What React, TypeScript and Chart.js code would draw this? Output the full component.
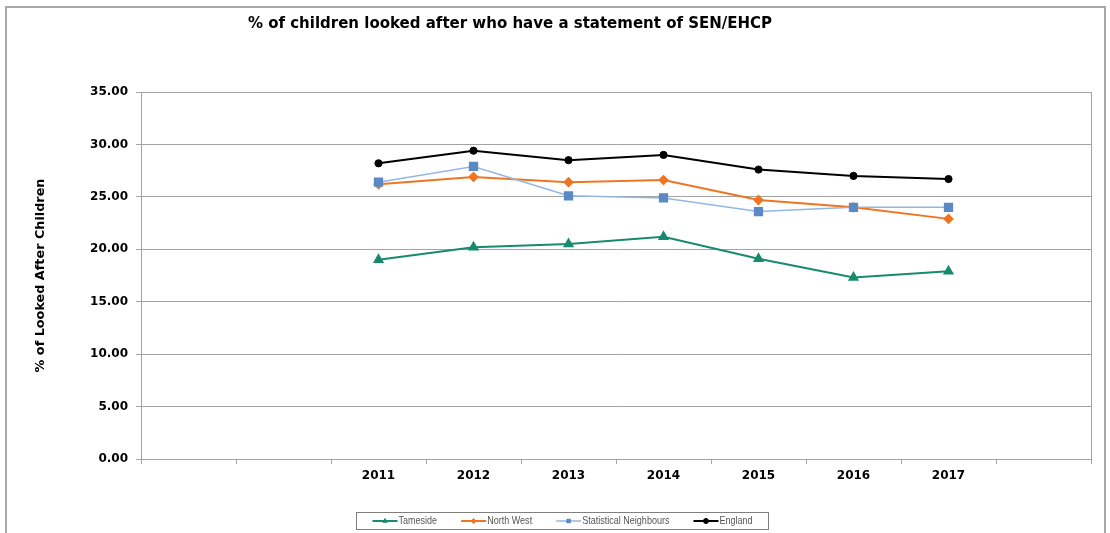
import React, { useEffect, useRef } from 'react';
import { Chart, registerables } from 'chart.js';
import { drawPoint } from 'chart.js/helpers';

Chart.register(...registerables);

// Category axis: two empty slots before the years and one after
const categories = ['', '', '2011', '2012', '2013', '2014', '2015', '2016', '2017', ''];

const tamesideValues = [null, null, 19.0, 20.2, 20.5, 21.2, 19.1, 17.3, 17.9, null];
const northWestValues = [null, null, 26.2, 26.9, 26.4, 26.6, 24.7, 24.0, 22.9, null];
const statNeighbourValues = [null, null, 26.4, 27.9, 25.1, 24.9, 23.6, 24.0, 24.0, null];
const englandValues = [null, null, 28.2, 29.4, 28.5, 29.0, 27.6, 27.0, 26.7, null];

const seriesNames = ['Tameside', 'North West', 'Statistical Neighbours', 'England'];

const chartTitle = '% of children looked after who have a statement of SEN/EHCP';
const yAxisTitle = '% of Looked After Children';

const axisFont = { family: '"DejaVu Sans", Verdana, sans-serif', size: 12, weight: 'bold' as const };
const gridColor = '#a3a3a3';

// Frame, title and line-with-marker legend drawn on the canvas
const decorPlugin = {
  id: 'decor',
  beforeDraw(chart: any) {
    const { ctx, width, height } = chart;
    ctx.save();
    ctx.fillStyle = '#ffffff';
    ctx.fillRect(0, 0, width, height);
    ctx.strokeStyle = '#a8a8a8';
    ctx.lineWidth = 2;
    ctx.strokeRect(6, 7, width - 11, height + 20);
    ctx.restore();
  },
  beforeDatasetsDraw(chart: any) {
    const { ctx, chartArea } = chart;
    ctx.save();
    ctx.strokeStyle = gridColor;
    ctx.lineWidth = 1;
    ctx.strokeRect(
      Math.round(chartArea.left) + 0.5,
      Math.round(chartArea.top) + 0.5,
      Math.round(chartArea.right - chartArea.left),
      Math.round(chartArea.bottom - chartArea.top)
    );
    ctx.restore();
  },
  afterDraw(chart: any) {
    const { ctx } = chart;
    ctx.save();
    // title
    ctx.font = 'bold 15px "DejaVu Sans", Verdana, sans-serif';
    ctx.fillStyle = '#000';
    ctx.textAlign = 'center';
    ctx.textBaseline = 'middle';
    ctx.fillText(chartTitle, 510, 24);

    // legend (text squeezed horizontally to a narrow face)
    ctx.font = '10.5px "Liberation Sans Narrow", "Liberation Sans", Arial, sans-serif';
    const squeeze = 0.86;
    const lineLen = 25;
    const textGap = 1;
    const itemGap = 24;
    const padX = 16;
    const datasets = chart.data.datasets;
    const widths = datasets.map((ds: any) => lineLen + textGap + ctx.measureText(ds.label).width * squeeze);
    const total = widths.reduce((a: number, b: number) => a + b, 0) + itemGap * (datasets.length - 1);
    const boxW = total + padX * 2;
    const boxH = 17;
    const centerX = 562;
    const boxX = Math.round(centerX - boxW / 2) + 0.5;
    const boxY = 512.5;
    ctx.strokeStyle = '#7f7f7f';
    ctx.lineWidth = 1;
    ctx.strokeRect(boxX, boxY, Math.round(boxW), boxH);
    const cy = boxY + boxH / 2;
    let x = boxX + padX;
    datasets.forEach((ds: any, i: number) => {
      ctx.strokeStyle = ds.borderColor;
      ctx.lineWidth = ds.borderWidth;
      ctx.beginPath();
      ctx.moveTo(x, cy);
      ctx.lineTo(x + lineLen, cy);
      ctx.stroke();
      ctx.fillStyle = ds.pointBackgroundColor;
      ctx.strokeStyle = ds.pointBorderColor;
      ctx.lineWidth = 1;
      drawPoint(ctx, { pointStyle: ds.pointStyle, radius: 2.5, rotation: 0, borderWidth: 1 }, x + lineLen / 2, cy);
      ctx.fillStyle = '#555';
      ctx.textAlign = 'left';
      ctx.textBaseline = 'middle';
      ctx.save();
      ctx.translate(x + lineLen + textGap, cy + 0.5);
      ctx.scale(squeeze, 1);
      ctx.fillText(ds.label, 0, 0);
      ctx.restore();
      x += widths[i] + itemGap;
    });
    ctx.restore();
  },
};

export default function App() {
  const ref = useRef<HTMLCanvasElement>(null);

  useEffect(() => {
    const chart = new Chart(ref.current!, {
      type: 'line',
      data: {
        labels: categories,
        datasets: [
          {
            label: seriesNames[0],
            data: tamesideValues,
            borderColor: '#188a6d',
            backgroundColor: '#188a6d',
            pointBackgroundColor: '#188a6d',
            pointBorderColor: '#188a6d',
            pointStyle: 'triangle',
            pointRadius: 4.5,
            borderWidth: 2,
            order: 0,
          },
          {
            label: seriesNames[1],
            data: northWestValues,
            borderColor: '#ee7622',
            backgroundColor: '#ee7622',
            pointBackgroundColor: '#ee7622',
            pointBorderColor: '#ee7622',
            pointStyle: 'rectRot',
            pointRadius: 4,
            borderWidth: 2,
            order: 2,
          },
          {
            label: seriesNames[2],
            data: statNeighbourValues,
            borderColor: '#93b6e2',
            backgroundColor: '#5a89c6',
            pointBackgroundColor: '#5a89c6',
            pointBorderColor: '#5a89c6',
            pointStyle: 'rect',
            pointRadius: 5.5,
            borderWidth: 1.5,
            order: 1,
          },
          {
            label: seriesNames[3],
            data: englandValues,
            borderColor: '#000000',
            backgroundColor: '#000000',
            pointBackgroundColor: '#000000',
            pointBorderColor: '#000000',
            pointStyle: 'circle',
            pointRadius: 3.6,
            borderWidth: 2,
            pointBorderWidth: 1,
            order: 3,
          },
        ],
      },
      options: {
        responsive: false,
        animation: false,
        layout: { padding: { top: 92, right: 19, bottom: 0, left: 0 } },
        plugins: {
          legend: { display: false },
          title: { display: false },
          tooltip: { enabled: false },
        },
        scales: {
          x: {
            type: 'category',
            offset: true,
            grid: {
              offset: true,
              drawOnChartArea: false,
              drawTicks: true,
              tickLength: 5,
              color: gridColor,
            },
            border: { display: true, color: gridColor },
            ticks: {
              autoSkip: false,
              maxRotation: 0,
              padding: 5,
              color: '#000',
              font: axisFont,
            },
            afterFit(scale: any) {
              scale.height = 74;
            },
          },
          y: {
            min: 0,
            max: 35,
            grid: { color: gridColor, tickLength: 5, lineWidth: 1 },
            border: { display: true, color: gridColor },
            ticks: {
              stepSize: 5,
              padding: 8,
              color: '#000',
              font: axisFont,
              callback: (v: any) => Number(v).toFixed(2),
            },
            title: {
              display: true,
              text: yAxisTitle,
              color: '#000',
              font: { ...axisFont, size: 12.8 },
              padding: { top: 33, bottom: 0 },
            },
            afterFit(scale: any) {
              scale.width = 141;
            },
          },
        },
      },
      plugins: [decorPlugin],
    });
    return () => chart.destroy();
  }, []);

  return (
    <div style={{ position: 'fixed', left: 0, top: 0, width: 1110, height: 533, background: '#fff' }}>
      <canvas ref={ref} width={1110} height={533} style={{ display: 'block' }} />
    </div>
  );
}
